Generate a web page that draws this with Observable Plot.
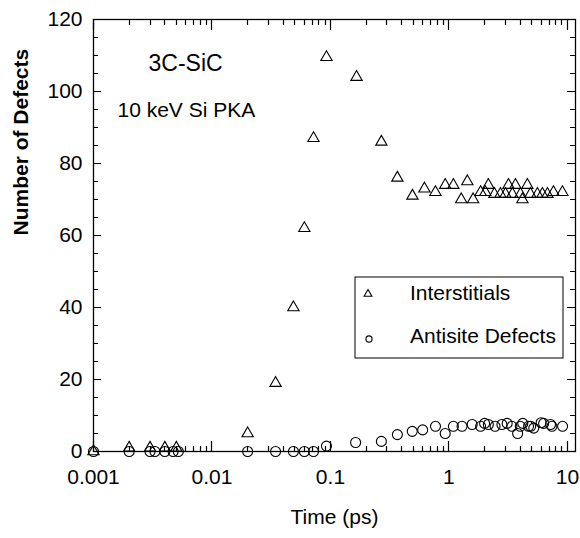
<!DOCTYPE html>
<html><head><meta charset="utf-8">
<script src="https://cdn.jsdelivr.net/npm/d3@7"></script>
<script src="https://cdn.jsdelivr.net/npm/@observablehq/plot@0.6"></script>
<style>html,body{margin:0;padding:0;background:#fff;overflow:hidden}</style>
</head><body><div id="chart"></div>
<script>
// ---- data ----
const interTime  = [0.001, 0.002, 0.003, 0.004, 0.005, 0.02, 0.0344, 0.0487, 0.0602, 0.0719, 0.0925, 0.166, 0.269, 0.367, 0.492, 0.621, 0.769, 0.93, 1.09, 1.27, 1.43, 1.60, 1.85, 2.03, 2.15, 2.42, 2.72, 3.0, 3.18, 3.43, 3.64, 4.01, 4.17, 4.59, 4.87, 5.58, 6.15, 6.78, 7.62, 9.07];
const interValue = [0, 1, 1, 1, 1, 5, 19, 40, 62, 87, 109.5, 104, 86, 76, 71, 73, 72, 74, 74, 70, 75, 70, 72, 72, 74, 71.5, 71.5, 71.5, 74, 71.5, 74, 71.5, 70, 74, 71.5, 71.5, 71.5, 71.5, 72, 72];
const antiTime   = [0.001, 0.002, 0.003, 0.0033, 0.004, 0.0047, 0.0052, 0.02, 0.0344, 0.0487, 0.0602, 0.0719, 0.0925, 0.163, 0.269, 0.367, 0.49, 0.6, 0.77, 0.93, 1.09, 1.29, 1.57, 1.85, 2.0, 2.15, 2.45, 2.8, 3.1, 3.4, 3.8, 4.0, 4.2, 4.7, 4.9, 5.2, 6.0, 6.3, 7.2, 7.4, 9.1];
const antiValue  = [0, 0, 0, 0, 0, 0, 0, 0, 0, 0, 0, 0, 1.5, 2.5, 2.8, 4.7, 5.6, 6, 7, 5, 7, 7, 7.5, 7, 7.8, 7.5, 7, 7.5, 7.8, 7, 5, 7, 7.8, 7, 7, 6.5, 8, 7.8, 7.5, 7, 7];
const seriesNames = ["Interstitials", "Antisite Defects"];
const xMajorTicks = [0.001, 0.01, 0.1, 1, 10];
const xTickLabels = ["0.001", "0.01", "0.1", "1", "10"];
const yMajorTicks = [0, 20, 40, 60, 80, 100, 120];
const yTickLabels = ["0", "20", "40", "60", "80", "100", "120"];
const xMinorTicks = [0.001, 0.01, 0.1, 1].flatMap(b => [2,3,4,5,6,7,8,9].map(k => b * k));
const yMinorTicks = [5,10,15,25,30,35,45,50,55,65,70,75,85,90,95,105,110,115];
const annotation1 = "3C-SiC";
const annotation2 = "10 keV Si PKA";
const xTitle = "Time (ps)";
const yTitle = "Number of Defects";

const inter = interTime.map((t, i) => ({t, v: interValue[i]}));
const anti = antiTime.map((t, i) => ({t, v: antiValue[i]}));

const font = "'Liberation Sans', Arial, Helvetica, sans-serif";

const chart = Plot.plot({
  width: 580, height: 538,
  marginLeft: 93, marginRight: 5, marginTop: 19, marginBottom: 87,
  style: {fontFamily: font, fontSize: "21px", background: "white"},
  x: {type: "log", domain: [0.001, 11.7], axis: null, label: null},
  y: {domain: [0, 120], axis: null, label: null},
  marks: [
    Plot.frame({stroke: "black", strokeWidth: 1.3}),
    // tick labels
    Plot.axisX(xMajorTicks, {anchor: "bottom", tickSize: 0, tickPadding: 18, tickFormat: d => xTickLabels[xMajorTicks.indexOf(d)], label: null, fontSize: 21}),
    Plot.axisY(yMajorTicks, {anchor: "left", tickSize: 0, tickPadding: 11, tickFormat: d => yTickLabels[yMajorTicks.indexOf(d)], label: null, fontSize: 21}),
    // data
    Plot.dot(anti, {x: "t", y: "v", symbol: "circle", r: 5, stroke: "black", strokeWidth: 1.1, fill: "none"}),
    Plot.dot(inter, {x: "t", y: "v", symbol: "triangle", r: 4.2, stroke: "black", strokeWidth: 1.1, fill: "none"}),
    // annotations & titles
    Plot.text([annotation1], {frameAnchor: "top-left", dx: 55, dy: 34.7, lineAnchor: "top", textAnchor: "start", fontSize: 23}),
    Plot.text([annotation2], {frameAnchor: "top-left", dx: 24, dy: 83, lineAnchor: "top", textAnchor: "start", fontSize: 21}),
    Plot.text([xTitle], {frameAnchor: "bottom", dy: 58, lineAnchor: "top", fontSize: 21}),
    Plot.text([yTitle], {frameAnchor: "left", dx: -72, rotate: -90, lineAnchor: "middle", fontSize: 21, fontWeight: "bold"})
  ]
});

document.getElementById("chart").appendChild(chart);
const svgSel = d3.select(chart);

// legend box
const lg = svgSel.append("g").attr("font-family", font).attr("font-size", 21).attr("text-anchor", "start");
lg.append("rect").attr("x", 355).attr("y", 277).attr("width", 208).attr("height", 81)
  .attr("fill", "white").attr("stroke", "black").attr("stroke-width", 1);
lg.append("path").attr("transform", "translate(368,294)")
  .attr("d", d3.symbol(d3.symbolTriangle, 26)()).attr("fill", "none").attr("stroke", "black").attr("stroke-width", 1.1);
lg.append("path").attr("transform", "translate(369,339)")
  .attr("d", d3.symbol(d3.symbolCircle, 30)()).attr("fill", "none").attr("stroke", "black").attr("stroke-width", 1.1);
lg.append("text").attr("x", 410).attr("y", 300).attr("fill", "black").text(seriesNames[0]);
lg.append("text").attr("x", 410).attr("y", 343).attr("fill", "black").text(seriesNames[1]);

// inside ticks on all four sides, placed through Plot's own scales (drawn last)
const scX = chart.scale("x"), scY = chart.scale("y");
const fxLeft = scX.range[0], fxRight = scX.range[1];
const fyBottom = scY.apply(0), fyTop = scY.apply(120);
let tickPath = "";
const seg = (xa, ya, xb, yb) => { tickPath += `M${xa},${ya}L${xb},${yb}`; };
xMinorTicks.forEach(v => { const X = Math.round(scX.apply(v)) + 0.5; seg(X, fyBottom, X, fyBottom - 5); seg(X, fyTop, X, fyTop + 6); });
xMajorTicks.forEach(v => { const X = Math.round(scX.apply(v)) + 0.5; seg(X, fyBottom, X, fyBottom - 10); seg(X, fyTop, X, fyTop + 11); });
yMinorTicks.forEach(v => { const Y = Math.round(scY.apply(v)) + 0.5; seg(fxLeft, Y, fxLeft + 5, Y); seg(fxRight, Y, fxRight - 5, Y); });
yMajorTicks.forEach(v => { const Y = Math.round(scY.apply(v)) + 0.5; seg(fxLeft, Y, fxLeft + 8, Y); seg(fxRight, Y, fxRight - 8, Y); });
svgSel.append("path").attr("d", tickPath).attr("fill", "none").attr("stroke", "#000").attr("stroke-width", 1.2);
</script>
</body></html>
